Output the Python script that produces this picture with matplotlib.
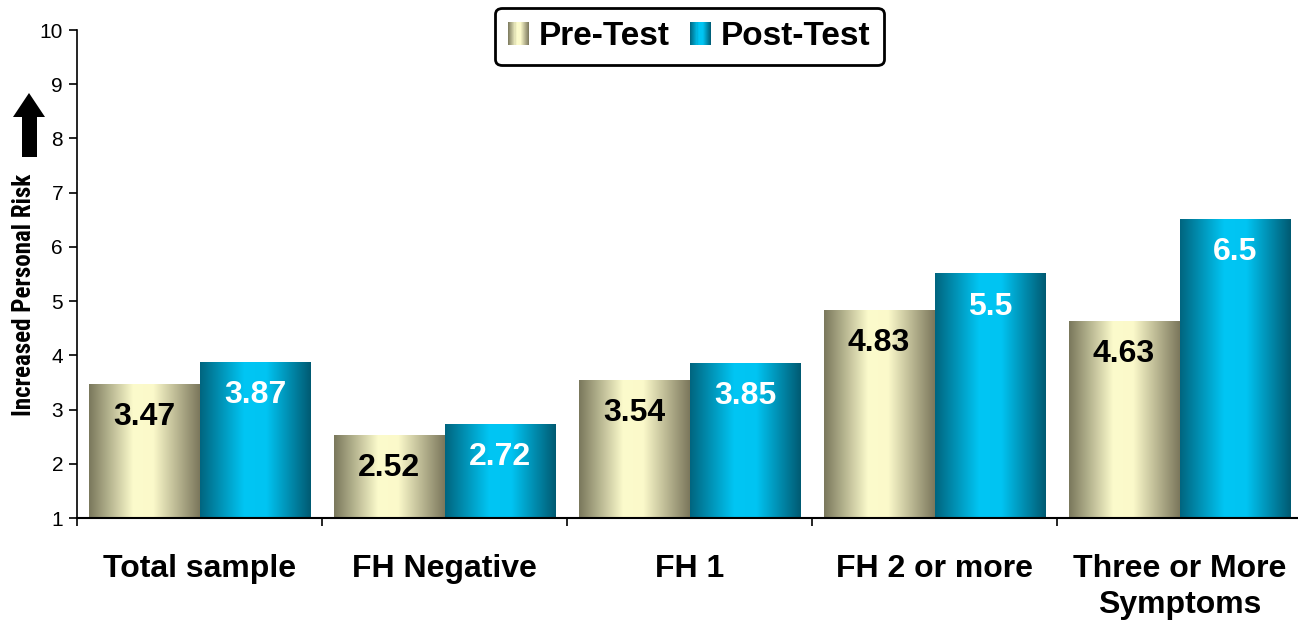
import numpy as np
import matplotlib
matplotlib.use("Agg")
import matplotlib.pyplot as plt
from matplotlib.colors import LinearSegmentedColormap
from matplotlib.legend_handler import HandlerBase
from matplotlib.patches import Patch, Rectangle, Polygon

categories = ["Total sample", "FH Negative", "FH 1", "FH 2 or more", "Three or More\nSymptoms"]
pre_test = [3.47, 2.52, 3.54, 4.83, 4.63]
post_test = [3.87, 2.72, 3.85, 5.5, 6.5]
series_names = ["Pre-Test", "Post-Test"]
y_ticks = [1, 2, 3, 4, 5, 6, 7, 8, 9, 10]

plt.rcParams["font.family"] = ["Liberation Sans", "DejaVu Sans"]

# cylinder-like horizontal shading
pre_cmap = LinearSegmentedColormap.from_list(
    "pre", [(0, "#7a785c"), (0.4, "#fcfbcc"), (0.58, "#fbf9ca"), (1, "#7b775c")])
post_cmap = LinearSegmentedColormap.from_list(
    "post", [(0, "#00657f"), (0.4, "#00c6f4"), (0.6, "#00c4f2"), (1, "#005a72")])
cmaps = {"Pre-Test": pre_cmap, "Post-Test": post_cmap}


class GradientHandler(HandlerBase):
    def create_artists(self, legend, orig_handle, xdescent, ydescent,
                       width, height, fontsize, trans):
        cmap = cmaps[orig_handle.get_label()]
        n = 20
        arts = []
        for k in range(n):
            r = Rectangle((-xdescent + width * k / n, -ydescent), width / n * 1.05, height,
                          facecolor=cmap((k + 0.5) / n), edgecolor="none", transform=trans)
            arts.append(r)
        return arts


W, H = 1298, 624
fig = plt.figure(figsize=(W / 100, H / 100), dpi=100)
ax = fig.add_axes([77 / W, 1 - 518 / H, 1225 / W, 488 / H])

x = np.arange(len(categories))
bw = 111 / 245
base = 1

bars_pre = ax.bar(x - bw / 2, np.array(pre_test) - base, bw, bottom=base,
                  facecolor="none", edgecolor="none")
bars_post = ax.bar(x + bw / 2, np.array(post_test) - base, bw, bottom=base,
                   facecolor="none", edgecolor="none")

grad = np.linspace(0, 1, 256).reshape(1, -1)
for bars, vals, cmap, tcol in [(bars_pre, pre_test, pre_cmap, "black"),
                               (bars_post, post_test, post_cmap, "white")]:
    for b, v in zip(bars, vals):
        x0, y0 = b.get_x(), b.get_y()
        ax.imshow(grad, extent=[x0, x0 + b.get_width(), y0, y0 + b.get_height()],
                  aspect="auto", cmap=cmap, interpolation="bicubic", zorder=2)
        ax.text(x0 + b.get_width() / 2, v - 0.6, f"{v:g}", ha="center", va="center",
                fontsize=23, fontweight="bold", color=tcol, zorder=3)

ax.set_xlim(-0.5, len(categories) - 0.5)
ax.set_ylim(1, 10)
ax.set_yticks(y_ticks)
ax.tick_params(axis="y", labelsize=15, length=6, width=1.2, pad=4)
ax.set_xticks(x)
ax.set_xticklabels(categories, fontsize=23, fontweight="bold", linespacing=1.27)
ax.tick_params(axis="x", which="major", length=0, pad=26)
ax.set_xticks(np.arange(-0.5, len(categories)), minor=True)
ax.tick_params(axis="x", which="minor", length=6, width=1.2, direction="out")
for s in ["top", "right"]:
    ax.spines[s].set_visible(False)
ax.spines["left"].set_linewidth(1.2)
ax.spines["bottom"].set_linewidth(1.5)

# y label with arrow
fig.text(24 / W, 1 - 295 / H, "Increased Personal Risk", rotation=90, ha="center",
         va="center", fontsize=18, fontweight="bold",
         family=["Roboto Condensed", "Liberation Sans Narrow", "Liberation Sans"])
pts = [(29, 93), (45, 117), (37, 117), (37, 157), (22, 157), (22, 117), (13, 117)]
fig.patches.append(Polygon([(px / W, 1 - py / H) for px, py in pts], closed=True,
                           facecolor="black", edgecolor="none", transform=fig.transFigure))

handles = [Patch(label=n) for n in series_names]
leg = fig.legend(handles=handles, loc="center", bbox_to_anchor=(689.5 / W, 1 - 36.5 / H),
                 ncol=2, handler_map={Patch: GradientHandler()},
                 prop={"weight": "bold", "size": 24}, handlelength=0.63, handleheight=0.66,
                 handletextpad=0.3, columnspacing=0.6, borderpad=0.4, borderaxespad=0,
                 frameon=True, fancybox=True, edgecolor="black", framealpha=1)
leg.get_frame().set_linewidth(2)

fig.savefig("out.png", dpi=100)
